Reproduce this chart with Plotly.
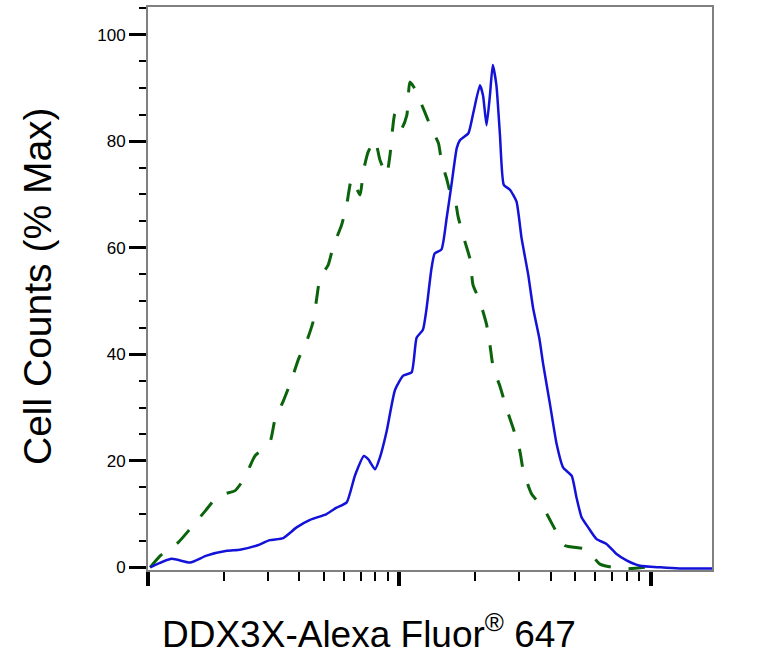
import plotly.graph_objects as go

# DDX3X-Alexa Fluor 647 histogram (% of max)
stained_x = [1.02, 1.24, 1.47, 1.71, 2.06, 2.32, 2.71, 3.05, 3.45, 3.90, 4.41, 5.13, 5.62,
             6.17, 6.65, 7.22, 7.51, 8.00, 8.36, 8.89, 9.60, 10.35, 11.18, 11.7, 12.4, 12.8,
             13.4, 13.8, 14.7, 15.4, 16.1, 16.9, 17.4, 18.8, 19.7, 20.9, 21.5, 22.2, 22.9,
             23.5, 24.3, 25.1, 26.0, 27.5, 29.2, 30.6, 32.5, 34.0, 36.0, 37.3, 39.7, 42.2,
             44.8, 48.4, 50.6, 53.0, 56.3, 60.8, 66.6, 73.0, 80.0, 90.4, 109, 130, 175]
stained_y = [0.0, 1.6, 0.9, 2.2, 3.1, 3.3, 4.1, 5.1, 5.5, 7.5, 8.9, 10.0, 11.2,
             12.2, 17.2, 20.9, 20.3, 18.4, 20.6, 25.5, 33.3, 36.0, 36.6, 43.1, 44.6, 48.4,
             56.0, 58.9, 59.7, 65.5, 71.8, 78.7, 80.2, 81.5, 85.5, 90.5, 88.6, 83.0, 88.6,
             94.3, 90.5, 81.2, 71.8, 70.9, 68.7, 61.8, 55.0, 48.7, 43.0, 38.1, 30.6, 23.1,
             18.7, 17.2, 13.1, 9.4, 7.5, 5.3, 4.4, 2.5, 1.3, 0.3, 0.0, -0.2, -0.2]

control_x = [1.02, 1.12, 1.32, 1.47, 1.69, 1.90, 2.22, 2.43, 2.66, 3.05, 3.20, 3.45, 3.73,
             3.96, 4.28, 4.54, 4.69, 4.83, 5.21, 5.45, 5.89, 6.17, 6.46, 6.97, 7.18, 7.51,
             8.00, 8.36, 8.89, 9.17, 9.60, 10.2, 10.7, 11.0, 11.5, 12.6, 13.4, 14.3, 14.7,
             15.4, 15.9, 16.6, 17.1, 18.2, 19.1, 19.6, 20.9, 22.2, 22.9, 23.6, 25.1, 26.7,
             28.3, 30.1, 31.1, 33.6, 37.3, 41.5, 45.5, 55.5, 62.7, 77.6, 94.6]
control_y = [0.0, 2.2, 4.7, 7.2, 10.6, 13.4, 14.4, 16.9, 20.9, 23.4, 27.8, 31.2, 35.3,
             39.0, 42.5, 46.2, 50.6, 54.3, 56.8, 60.2, 64.3, 68.1, 73.0, 69.9, 74.3, 78.0,
             80.2, 76.5, 73.7, 77.4, 85.2, 82.4, 84.9, 91.1, 89.9, 85.5, 82.4, 79.6, 76.2,
             73.0, 70.5, 69.3, 65.9, 61.2, 57.8, 53.1, 49.9, 45.6, 41.8, 37.5, 34.0, 29.7,
             26.2, 21.9, 18.1, 13.7, 11.2, 7.2, 4.1, 3.4, 0.6, -0.3, 0.0]

y_ticks = [0, 20, 40, 60, 80, 100]

FONT = "Liberation Sans, Arial, sans-serif"
W, H = 783, 671
L, R, T, B = 148, 71, 5, 101
plot_w = W - L - R
plot_h = H - T - B

fig = go.Figure()

fig.add_trace(go.Scatter(x=control_x, y=control_y, mode="lines",
                         line=dict(color="#0b640b", width=3, dash="18px,18px",
                                   shape="spline", smoothing=0.5),
                         showlegend=False))
fig.add_trace(go.Scatter(x=stained_x, y=stained_y, mode="lines",
                         line=dict(color="#1212d8", width=2.5,
                                   shape="spline", smoothing=0.5),
                         showlegend=False))

fig.update_xaxes(type="log", range=[0, 2.243], showgrid=False, zeroline=False,
                 showline=True, linecolor="#808080", linewidth=2, mirror=True,
                 ticks="outside", ticklen=14, tickwidth=4, tickcolor="black",
                 dtick=1, showticklabels=False,
                 minor=dict(ticks="outside", ticklen=9, tickwidth=2,
                            tickcolor="black", dtick="D1", showgrid=False))
fig.update_yaxes(range=[-0.5, 105.2], showgrid=False, zeroline=False,
                 showline=True, linecolor="#808080", linewidth=2, mirror=True,
                 ticks="outside", ticklen=17, tickwidth=3, tickcolor="black",
                 tickvals=y_ticks, ticktext=[str(v) for v in y_ticks],
                 tickfont=dict(family=FONT, size=17, color="black"),
                 minor=dict(ticks="outside", ticklen=7, tickwidth=2,
                            tickcolor="black", dtick=5, showgrid=False))

fig.add_annotation(text="Cell Counts (% Max)", textangle=-90,
                   xref="paper", yref="paper",
                   x=(37 - L) / plot_w, y=(H - B - 285) / plot_h,
                   xanchor="center", yanchor="middle", showarrow=False,
                   font=dict(family=FONT, size=39, color="black"))
fig.add_annotation(text="DDX3X-Alexa Fluor<sup>®</sup> 647",
                   xref="paper", yref="paper",
                   x=(369 - L) / plot_w, y=(H - B - 632) / plot_h,
                   xanchor="center", yanchor="middle", showarrow=False,
                   font=dict(family=FONT, size=37, color="black"))

fig.update_layout(width=W, height=H, margin=dict(l=L, r=R, t=T, b=B),
                  paper_bgcolor="white", plot_bgcolor="white")

# page body has a default margin; drop it so the figure sits at the top-left
fig.write_html("out.html", config={"displayModeBar": False},
               post_script="document.body.style.margin='0';")
